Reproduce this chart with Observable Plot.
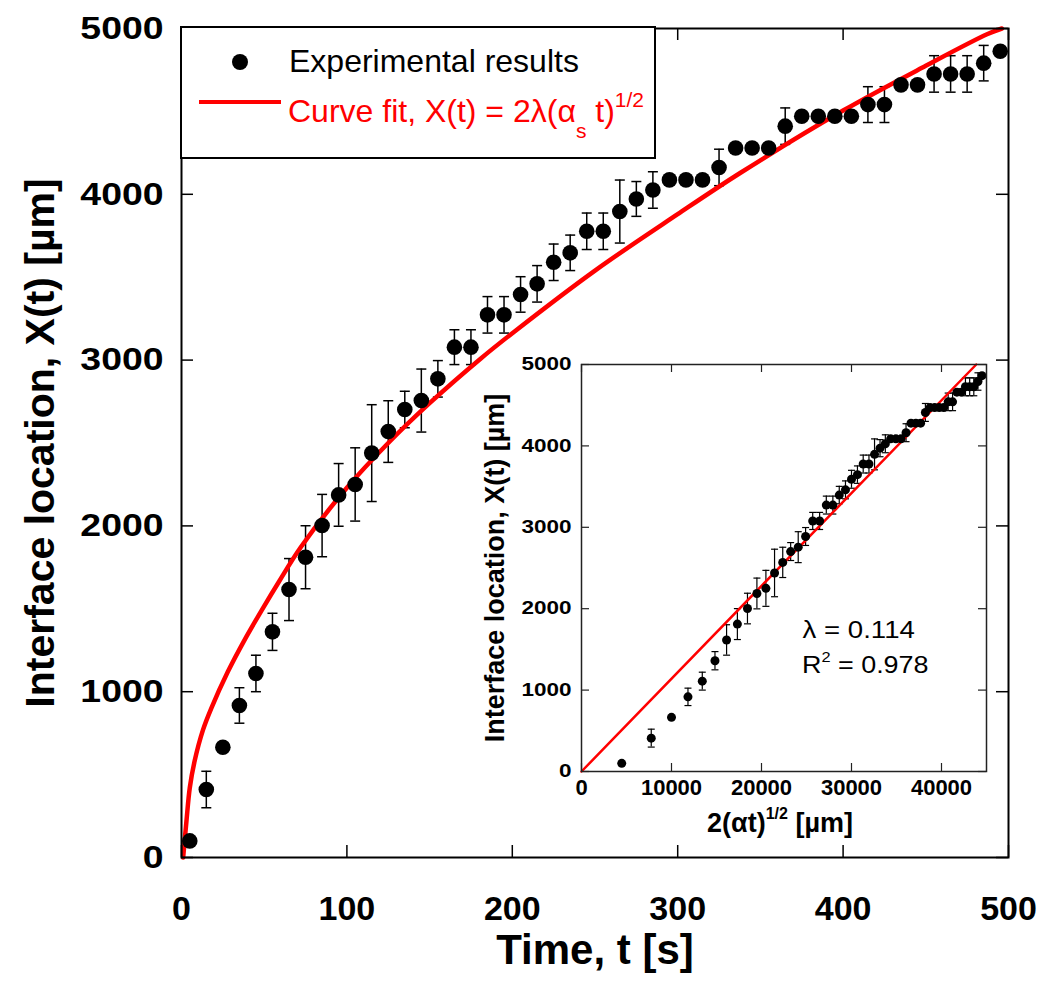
<!DOCTYPE html>
<html><head><meta charset="utf-8">
<script src="https://cdn.jsdelivr.net/npm/d3@7"></script>
<script src="https://cdn.jsdelivr.net/npm/@observablehq/plot@0.6"></script>
<style>
body{margin:0;background:#fff;}
#wrap{position:relative;width:1050px;height:995px;font-family:"Liberation Sans",Arial,sans-serif;}
#wrap svg{position:absolute;left:0;top:0;}
</style></head><body><div id="wrap"></div>
<script>
// ---- data ----
const times = [5,15,25,35,45,55,65,75,85,95,105,115,125,135,145,155,165,175,185,195,205,215,225,235,245,255,265,275,285,295,305,315,325,335,345,355,365,375,385,395,405,415,425,435,445,455,465,475,485,495];
const positions = [100,410,665,917,1110,1361,1616,1811,2002,2187,2250,2439,2569,2702,2756,2887,3078,3078,3273,3273,3396,3460,3590,3647,3777,3777,3896,3972,4026,4087,4087,4087,4162,4279,4279,4279,4411,4471,4471,4471,4471,4541,4541,4660,4660,4726,4726,4726,4791,4863];
const errors = [0,110,0,107,110,112,187,190,188,189,221,292,186,110,190,110,105,105,110,110,107,110,110,107,110,110,190,105,110,0,0,0,110,0,0,0,110,0,0,0,0,108,108,0,0,110,110,110,107,0];
const insetX = [4470,7750,10000,11830,13420,14830,16120,17320,18440,19490,20490,21450,22360,23240,24080,24900,25690,26460,27200,27930,28640,29330,30000,30660,31300,31940,32560,33170,33760,34350,34930,35500,36060,36610,37150,37680,38210,38730,39240,39750,40250,40740,41230,41710,42190,42660,43130,43590,44050,44500];
const fitTimes = [1,3,5,8,13,18,28,38,49,59,72,100,125,150,181,201,250,300,338,400,450,487,496];
const fitPositions = [0,220,420,585,770,900,1120,1310,1500,1665,1870,2230,2500,2740,3010,3170,3540,3880,4130,4505,4775,4965,5000];
const insetFitX = [0,43860];
const insetFitY = [0,5000];
const xTicks = [0,100,200,300,400,500];
const yTicks = [0,1000,2000,3000,4000,5000];
const insetXTicks = [0,10000,20000,30000,40000];
const insetYTicks = [0,1000,2000,3000,4000,5000];

// ---- build tables ----
const rows = times.map((t,i)=>({t, X: positions[i], e: errors[i], s: insetX[i]}));
const bars = rows.filter(d=>d.e>0);
const fit = fitTimes.map((t,i)=>({t, X: fitPositions[i]}));
const insetFit = insetFitX.map((s,i)=>({s, X: insetFitY[i]}));
const cap = {draw(ctx,size){const w=Math.sqrt(size/Math.PI);ctx.moveTo(-w,0);ctx.lineTo(w,0);}};
const FONT = "Liberation Sans, Arial, Helvetica, sans-serif";
const fmt = d => String(d);

const W=1050,H=995,mL=181,mR=42,mT=28,mB=138;
const pw=W-mL-mR, ph=H-mT-mB;
const main = Plot.plot({
  width:W, height:H, marginLeft:mL, marginRight:mR, marginTop:mT, marginBottom:mB,
  x:{domain:[0,500]}, y:{domain:[0,5000]},
  style:{fontFamily:FONT, background:"transparent", overflow:"visible", color:"#000"},
  marks:[
    Plot.ruleX(bars,{x:"t", y1:d=>d.X-d.e, y2:d=>d.X+d.e, stroke:"#000", strokeWidth:1.5}),
    Plot.dot(bars,{x:"t", y:d=>d.X+d.e, symbol:cap, r:5, stroke:"#000", strokeWidth:1.5}),
    Plot.dot(bars,{x:"t", y:d=>d.X-d.e, symbol:cap, r:5, stroke:"#000", strokeWidth:1.5}),
    Plot.line(fit,{x:"t", y:"X", stroke:"#ff0000", strokeWidth:4.5, curve:"catmull-rom"}),
    Plot.dot(rows,{x:"t", y:"X", r:7.8, fill:"#000", stroke:"none"}),
    Plot.tickX(xTicks,{x:d=>d, insetTop:ph-12, stroke:"#000", strokeWidth:1.5}),
    Plot.tickX(xTicks,{x:d=>d, insetBottom:ph-12, stroke:"#000", strokeWidth:1.5}),
    Plot.tickY(yTicks,{y:d=>d, insetRight:pw-12, stroke:"#000", strokeWidth:1.5}),
    Plot.tickY(yTicks,{y:d=>d, insetLeft:pw-12, stroke:"#000", strokeWidth:1.5}),
    Plot.frame({stroke:"#000", strokeWidth:2}),
    Plot.axisX(xTicks,{tickSize:0, tickPadding:38, fontSize:34, fontWeight:"bold", label:null, tickFormat:fmt}),
    Plot.axisY(yTicks,{tickSize:0, tickPadding:18, fontSize:32, fontWeight:"bold", label:null, tickFormat:fmt}),
    Plot.text(["Time, t [s]"],{frameAnchor:"bottom", dy:93, fontSize:42, fontWeight:"bold", lineAnchor:"middle", textAnchor:"middle"}),
    Plot.text(["Interface location, X(t) [\u00b5m]"],{frameAnchor:"left", dx:-141, rotate:-90, fontSize:41, fontWeight:"bold", lineAnchor:"middle", textAnchor:"middle"})
  ]
});
document.getElementById("wrap").appendChild(main);

// inset
const IL=460, IT=340, IW=545, IH=520;
const iL=121, iR=IW-(986-IL), iT=364-IT, iB=IT+IH-771;
const ipw=IW-iL-iR, iph=IH-iT-iB;
const inset = Plot.plot({
  width:IW, height:IH, marginLeft:iL, marginRight:iR, marginTop:iT, marginBottom:iB,
  x:{domain:[0,45000]}, y:{domain:[0,5000]},
  style:{fontFamily:FONT, background:"transparent", overflow:"visible", color:"#000"},
  marks:[
    Plot.ruleX(bars,{x:"s", y1:d=>d.X-d.e, y2:d=>d.X+d.e, stroke:"#000", strokeWidth:1.2}),
    Plot.dot(bars,{x:"s", y:d=>d.X+d.e, symbol:cap, r:3.5, stroke:"#000", strokeWidth:1.2}),
    Plot.dot(bars,{x:"s", y:d=>d.X-d.e, symbol:cap, r:3.5, stroke:"#000", strokeWidth:1.2}),
    Plot.line(insetFit,{x:"s", y:"X", stroke:"#ff0000", strokeWidth:2.5}),
    Plot.dot(rows,{x:"s", y:"X", r:4.5, fill:"#000", stroke:"none"}),
    Plot.tickX(insetXTicks,{x:d=>d, insetTop:iph-8, stroke:"#222", strokeWidth:1.2}),
    Plot.tickX(insetXTicks,{x:d=>d, insetBottom:iph-8, stroke:"#222", strokeWidth:1.2}),
    Plot.tickY(insetYTicks,{y:d=>d, insetRight:ipw-8, stroke:"#222", strokeWidth:1.2}),
    Plot.tickY(insetYTicks,{y:d=>d, insetLeft:ipw-8, stroke:"#222", strokeWidth:1.2}),
    Plot.frame({stroke:"#222", strokeWidth:1.5}),
    Plot.axisX(insetXTicks,{tickSize:0, tickPadding:8, fontSize:22, fontWeight:"bold", label:null, tickFormat:fmt}),
    Plot.axisY(insetYTicks,{tickSize:0, tickPadding:10, fontSize:18, fontWeight:"bold", label:null, tickFormat:fmt}),
    Plot.text(["Interface location, X(t) [\u00b5m]"],{frameAnchor:"left", dx:-86, rotate:-90, fontSize:27, fontWeight:"bold", lineAnchor:"middle", textAnchor:"middle"}),
    Plot.text(["\u03bb = 0.114"],{frameAnchor:"top-left", dx:802-581, dy:637-364, fontSize:23, lineAnchor:"bottom", textAnchor:"start"})
  ]
});
inset.style.left = IL+"px"; inset.style.top = IT+"px";
document.getElementById("wrap").appendChild(inset);

// horizontal stretch helper (the reference's lettering is wider than the font's)
function stretch(sel, sx, ox){
  sel.each(function(){
    const g = d3.select(this), old = g.attr("transform") || "";
    g.attr("transform", `translate(${ox},0) scale(${sx},1) translate(${-ox},0) ${old}`);
  });
}
stretch(d3.select(main).selectAll('g[aria-label="y-axis tick label"]'), 1.17, 163);
stretch(d3.select(inset).selectAll('g[aria-label="y-axis tick label"]'), 1.25, iL-10);
stretch(d3.select(inset).selectAll('g[aria-label="text"]').filter(function(){return d3.select(this).text().startsWith("\u03bb");}), 1.2, iL+221);

// rich-text labels (superscripts / subscripts) and legend
const ov = d3.select("#wrap").append("svg")
  .attr("width",W).attr("height",H).style("font-family",FONT).style("pointer-events","none");
// inset R^2
const r2 = ov.append("text").attr("x",802).attr("y",673).attr("font-size",23)
  .attr("transform","translate(802,0) scale(1.17,1) translate(-802,0)");
r2.append("tspan").text("R");
r2.append("tspan").attr("font-size",14).attr("dy",-11).text("2");
r2.append("tspan").attr("dy",11).text(" = 0.978");
// inset x label
const ixl = ov.append("text").attr("x",780).attr("y",832).attr("text-anchor","middle").attr("font-size",27).attr("font-weight","bold");
ixl.append("tspan").text("2(\u03b1t)");
ixl.append("tspan").attr("font-size",16).attr("dy",-13).text("1/2");
ixl.append("tspan").attr("dy",13).text(" [\u00b5m]");
// legend
const lg = ov.append("g");
lg.append("rect").attr("x",181).attr("y",27).attr("width",474).attr("height",131).attr("fill","#fff").attr("stroke","#000").attr("stroke-width",2);
lg.append("circle").attr("cx",240).attr("cy",62).attr("r",8).attr("fill","#000");
lg.append("text").attr("x",289).attr("y",72).attr("font-size",32).text("Experimental results");
lg.append("line").attr("x1",199).attr("x2",281).attr("y1",102).attr("y2",102).attr("stroke","#ff0000").attr("stroke-width",4);
const ct = lg.append("text").attr("x",288).attr("y",122).attr("font-size",32).attr("fill","#ff0000");
ct.append("tspan").text("Curve fit, X(t) = 2\u03bb(\u03b1");
ct.append("tspan").attr("font-size",21).attr("dy",16).text("s");
ct.append("tspan").attr("dy",-16).text(" t)");
ct.append("tspan").attr("font-size",21).attr("dy",-15).text("1/2");
</script></body></html>
